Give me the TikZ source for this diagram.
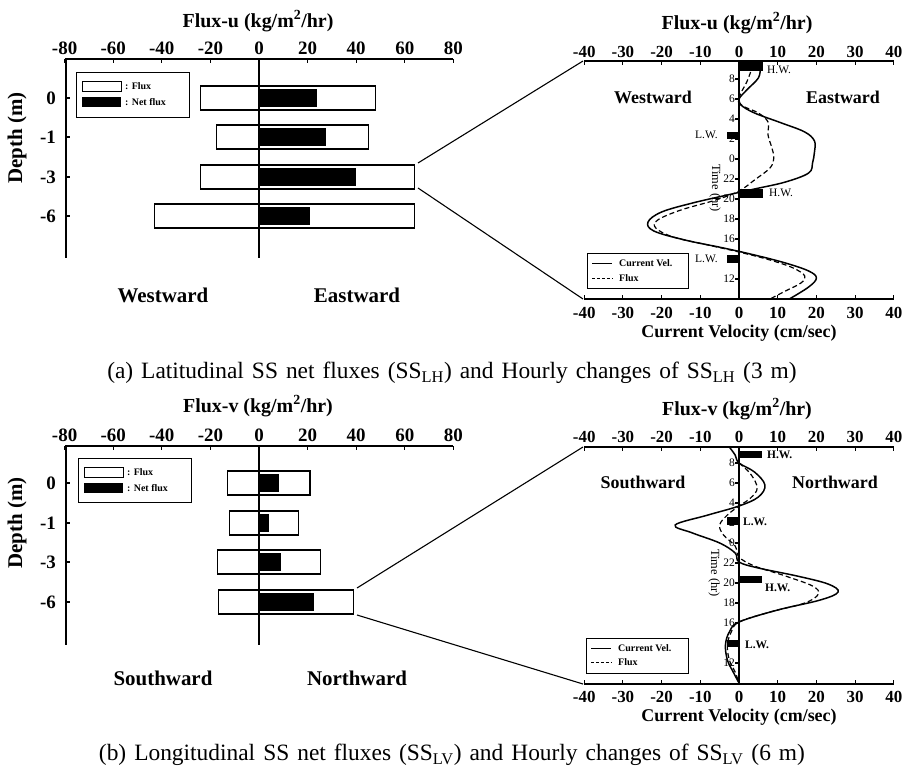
\documentclass[tikz,border=0pt]{standalone}
\usepackage{fontspec}
\setmainfont{Liberation Serif}
\usepackage{tikz}

\begin{document}
\begin{tikzpicture}[x=1bp,y=-1bp]
\tikzstyle{every node}=[inner sep=0pt];
\tikzstyle{ttl}=[font=\bfseries\fontsize{20}{22}\selectfont];
\tikzstyle{deplab}=[font=\bfseries\fontsize{21}{23}\selectfont,rotate=90];
\tikzstyle{tkl}=[font=\bfseries\fontsize{19}{21}\selectfont];
\tikzstyle{tkr}=[font=\bfseries\fontsize{17}{19}\selectfont];
\tikzstyle{dirl}=[font=\bfseries\fontsize{21}{23}\selectfont];
\tikzstyle{dirr}=[font=\bfseries\fontsize{18}{20}\selectfont];
\tikzstyle{velttl}=[font=\bfseries\fontsize{18}{20}\selectfont];
\tikzstyle{hrs}=[font=\fontsize{11.5}{12}\selectfont,anchor=east];
\tikzstyle{tide}=[font=\fontsize{11.5}{12}\selectfont,anchor=west];
\tikzstyle{tideb}=[font=\bfseries\fontsize{11.5}{12}\selectfont,anchor=west];
\tikzstyle{leg}=[font=\bfseries\fontsize{10}{11}\selectfont,anchor=west];
\tikzstyle{caplab}=[font={\fontsize{23.5}{25}\selectfont\spaceskip=8bp\relax}];
\tikzstyle{fluxbar}=[draw,fill=white,line width=1.1pt];
\tikzstyle{netbar}=[fill=black];
\tikzstyle{axis}=[line width=1.1pt];
\tikzstyle{velcurve}=[line width=1.5pt];
\tikzstyle{fluxcurve}=[line width=1.2pt,dash pattern=on 5pt off 3pt];
\useasboundingbox (0,0) rectangle (903,769);

\node[ttl](ttlU) at (258,21) {Flux-u (kg/m\textsuperscript{2}/hr)};
\begin{scope}[shift={(259,0)},x=2.43bp]
\foreach \v in {-80,-60,...,80}{
\draw[axis] (\v,59) -- (\v,63);
\node[tkl](ut\v) at (\v,48) {\v};
}
\draw[fluxbar] (-24,86) rectangle (48,110);
\draw[fluxbar] (-17.5,125) rectangle (45,149);
\draw[fluxbar] (-24,165) rectangle (64,189);
\draw[fluxbar] (-43,204) rectangle (64,228);
\draw[axis] (0,59) -- (0,258);
\fill[netbar] (0,89) rectangle (24,107);
\fill[netbar] (0,128) rectangle (27.5,146);
\fill[netbar] (0,168) rectangle (40,186);
\fill[netbar] (0,207) rectangle (21,225);
\end{scope}
\draw[axis] (453,59) -- (66,59) -- (66,258);
\draw[axis] (66,98) -- (70,98) (66,137) -- (70,137) (66,177) -- (70,177) (66,216) -- (70,216);
\node[tkl,anchor=east](d0u) at (56,98) {0};
\node[tkl,anchor=east](d1u) at (56,137) {-1};
\node[tkl,anchor=east](d3u) at (56,177) {-3};
\node[tkl,anchor=east](d6u) at (56,216) {-6};
\node[deplab](depU) at (17,138) {Depth (m)};
\draw[line width=0.9pt] (76,72) rectangle (189,117);
\draw[line width=0.9pt,fill=white] (82,81) rectangle (121,91);
\fill (82,97) rectangle (121,107);
\node[leg](lfU) at (125,86) {: Flux};
\node[leg](lnU) at (125,102) {: Net flux};
\node[dirl](wU) at (163,295) {Westward};
\node[dirl](eU) at (357,295) {Eastward};

\node[ttl](ttlUr) at (737,23) {Flux-u (kg/m\textsuperscript{2}/hr)};
\node[velttl](cvU) at (739,333) {Current Velocity (cm/sec)};
\begin{scope}[shift={(739,0)},x=3.87bp]
\foreach \v in {-40,-30,...,40}{
\draw[axis] (\v,61) -- (\v,65) (\v,299) -- (\v,295);
\node[tkr](vt\v) at (\v,52) {\v};
\node[tkr](vb\v) at (\v,313) {\v};
}
\draw[axis] (-40,61) -- (40,61) (-40,299) -- (40,299) (0,61) -- (0,299);
\draw[velcurve] plot[smooth,tension=0.6] coordinates {(5.5,68) (5,78) (2,90) (0,99) (0.5,105) (4,113) (11,123) (17,132) (19.5,141) (19.5,152) (19,163) (18,173) (12,182) (4,189) (-3,195) (-12,203) (-20,212) (-23.5,222) (-22,231) (-14,240) (-4,248) (4,255) (12,263) (18,271) (20,278) (18,287) (13,299)};
\draw[fluxcurve] plot[smooth,tension=0.6] coordinates {(3,72) (2,82) (0.5,93) (0,100) (1,106) (5,113) (7.5,122) (7.5,135) (8.5,148) (9,158) (8,168) (4,180) (0,191) (-6,200) (-15,210) (-21,220) (-21.5,228) (-17,237) (-8,245) (0,252) (8,260) (14,268) (17,276) (16,283) (12,291) (8,299)};
\fill (0,62) rectangle (6.2,71);
\fill (0,189) rectangle (6.2,198);
\fill (-3,132) rectangle (0,139);
\fill (-3,255) rectangle (0,263);
\end{scope}
\foreach \y in {79,99,...,279} \draw[axis] (735,\y) -- (739,\y);
\foreach \t/\y in {8/79,6/99,4/119,2/139,0/159,22/179,20/199,18/219,16/239,12/279}
\node[hrs](hu\t) at (735,\y) {\t};
\node[font=\fontsize{12.5}{13}\selectfont,rotate=-90](timeU) at (715,188) {Time (hr)};
\node[tide](hw1U) at (767,70) {H.W.};
\node[tide](hw2U) at (769,193) {H.W.};
\node[tide](lw1U) at (695,135) {L.W.};
\node[tide](lw2U) at (695,259) {L.W.};
\node[dirr](wUr) at (653,97) {Westward};
\node[dirr](eUr) at (843,97) {Eastward};
\draw[line width=0.6pt] (587,253) rectangle (688,288);
\coordinate (kv1U) at (592,263);
\coordinate (kv2U) at (612,263);
\coordinate (kf1U) at (592,278);
\coordinate (kf2U) at (612,278);
\draw[line width=0.9pt] (kv1U) -- (kv2U);
\draw[line width=0.9pt,dash pattern=on 3pt off 2pt] (kf1U) -- (kf2U);
\node[leg](lvU) at (619,263) {Current Vel.};
\node[leg](lxU) at (619,278) {Flux};

\coordinate (zu1) at (418,163);
\coordinate (zu2) at (418,188);
\coordinate (vu1) at (583,61);
\coordinate (vu2) at (583,299);
\draw[line width=1.1pt] (zu1) -- (vu1) (zu2) -- (vu2);

\node[caplab](capA) at (452,373) {(a) Latitudinal SS net fluxes (SS\textsubscript{LH}) and Hourly changes of SS\textsubscript{LH} (3 m)};

\node[ttl](ttlV) at (258,406) {Flux-v (kg/m\textsuperscript{2}/hr)};
\begin{scope}[shift={(259,0)},x=2.43bp]
\foreach \v in {-80,-60,...,80}{
\draw[axis] (\v,446) -- (\v,450);
\node[tkl](vtl\v) at (\v,435) {\v};
}
\draw[fluxbar] (-12.8,471) rectangle (21,495);
\draw[fluxbar] (-12.3,511) rectangle (16.4,535);
\draw[fluxbar] (-17,550) rectangle (25.4,574);
\draw[fluxbar] (-16.8,590) rectangle (39,614);
\draw[axis] (0,446) -- (0,645);
\fill[netbar] (0,474) rectangle (8.2,492);
\fill[netbar] (0,514) rectangle (4,532);
\fill[netbar] (0,553) rectangle (8.9,571);
\fill[netbar] (0,593) rectangle (22.5,611);
\end{scope}
\draw[axis] (453,446) -- (66,446) -- (66,645);
\draw[axis] (66,483) -- (70,483) (66,523) -- (70,523) (66,562) -- (70,562) (66,602) -- (70,602);
\node[tkl,anchor=east](d0v) at (56,483) {0};
\node[tkl,anchor=east](d1v) at (56,523) {-1};
\node[tkl,anchor=east](d3v) at (56,562) {-3};
\node[tkl,anchor=east](d6v) at (56,602) {-6};
\node[deplab](depV) at (17,523) {Depth (m)};
\draw[line width=0.9pt] (78,458) rectangle (191,502);
\draw[line width=0.9pt,fill=white] (84,467) rectangle (123,477);
\fill (84,483) rectangle (123,493);
\node[leg](lfV) at (127,472) {: Flux};
\node[leg](lnV) at (127,488) {: Net flux};
\node[dirl](sV) at (163,678) {Southward};
\node[dirl](nV) at (357,678) {Northward};

\node[ttl](ttlVr) at (737,409) {Flux-v (kg/m\textsuperscript{2}/hr)};
\node[velttl](cvV) at (739,717) {Current Velocity (cm/sec)};
\begin{scope}[shift={(739,0)},x=3.87bp]
\foreach \v in {-40,-30,...,40}{
\draw[axis] (\v,447) -- (\v,451) (\v,684) -- (\v,680);
\node[tkr](wt\v) at (\v,437) {\v};
\node[tkr](wb\v) at (\v,697) {\v};
}
\draw[axis] (-40,447) -- (40,447) (-40,684) -- (40,684) (0,447) -- (0,684);
\draw[velcurve] plot[smooth,tension=0.6] coordinates {(-2.5,447) (-1,455) (0,463) (4,472) (6.7,485) (5,497) (0,506) (-8,515) (-16.5,525) (-12,533) (-5,543) (-1,553) (0,562) (5,568) (15,576) (23,584) (25.6,592) (21,600) (10,610) (0,622) (-2.5,632) (-3.5,645) (-3,660) (-1.5,672) (0,683)};
\draw[fluxcurve] plot[smooth,tension=0.6] coordinates {(0,463) (3,474) (4.7,488) (3,498) (0,506) (-3,515) (-5,525) (-4,535) (-1,546) (0,557) (4,566) (12,576) (19,586) (20.5,594) (17,603) (8,612) (0,622) (-2,632) (-3,645) (-2.5,660) (-1,672) (0,683)};
\fill (0,451) rectangle (6,458);
\fill (0,576) rectangle (6,583);
\fill (-3,517) rectangle (0,525);
\fill (-3,640) rectangle (0,647);
\end{scope}
\foreach \y in {463,483,...,663} \draw[axis] (735,\y) -- (739,\y);
\foreach \t/\y in {8/463,6/483,4/503,2/523,0/543,22/563,20/583,18/603,16/623,12/663}
\node[hrs](hv\t) at (735,\y) {\t};
\node[font=\fontsize{12.5}{13}\selectfont,rotate=-90](timeV) at (714,573) {Time (hr)};
\node[tideb](hw1V) at (767,455) {H.W.};
\node[tideb](hw2V) at (765,588) {H.W.};
\node[tideb](lw1V) at (743,522) {L.W.};
\node[tideb](lw2V) at (745,645) {L.W.};
\node[dirr](sVr) at (643,482) {Southward};
\node[dirr](nVr) at (835,482) {Northward};
\draw[line width=0.6pt] (586,638) rectangle (688,673);
\coordinate (kv1V) at (591,648);
\coordinate (kv2V) at (611,648);
\coordinate (kf1V) at (591,662);
\coordinate (kf2V) at (611,662);
\draw[line width=0.9pt] (kv1V) -- (kv2V);
\draw[line width=0.9pt,dash pattern=on 3pt off 2pt] (kf1V) -- (kf2V);
\node[leg](lvV) at (618,648) {Current Vel.};
\node[leg](lxV) at (618,662) {Flux};

\coordinate (zv1) at (357,588);
\coordinate (zv2) at (357,615);
\coordinate (wv1) at (583,447);
\coordinate (wv2) at (583,684);
\draw[line width=1.1pt] (zv1) -- (wv1) (zv2) -- (wv2);

\node[caplab](capB) at (452,755) {(b) Longitudinal SS net fluxes (SS\textsubscript{LV}) and Hourly changes of SS\textsubscript{LV} (6 m)};
\end{tikzpicture}
\end{document}
